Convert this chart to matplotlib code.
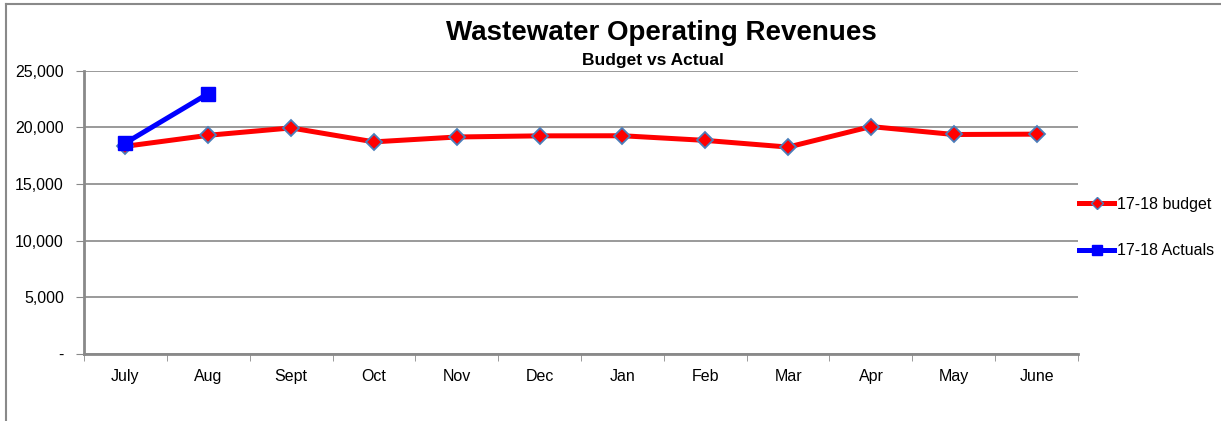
import matplotlib
matplotlib.use('Agg')
import matplotlib.pyplot as plt
from matplotlib.lines import Line2D

plt.rcParams['font.family'] = ['Liberation Sans', 'DejaVu Sans']

months = ['July', 'Aug', 'Sept', 'Oct', 'Nov', 'Dec',
          'Jan', 'Feb', 'Mar', 'Apr', 'May', 'June']
budget = [18330, 19300, 19950, 18720, 19150, 19250,
          19260, 18850, 18260, 20070, 19370, 19400]
actuals = [18620, 22980]
yticks = [0, 5000, 10000, 15000, 20000, 25000]
ytick_labels = ['-', '5,000', '10,000', '15,000', '20,000', '25,000']

W, H = 1221, 421
fig = plt.figure(figsize=(W / 100, H / 100), dpi=100)
ax = fig.add_axes([84 / W, 1 - 354 / H, (1078 - 84) / W, (354 - 70.7) / H])

grey = '#898989'
x = list(range(len(months)))

# budget line: red with blue-edged diamonds
ax.plot(x, budget, color='#ff0000', lw=3.6, marker='D', ms=8,
        mfc='#ff0000', mec='#4a7ebb', mew=1.3, zorder=3)
# actuals line: blue squares
ax.plot(x[:len(actuals)], actuals, color='#0000ff', lw=3.6, marker='s',
        ms=10, mfc='#0000ff', mec='#0000ff', zorder=4)

ax.set_xlim(-0.5, len(months) - 0.5)
ax.set_ylim(0, 25000)
ax.set_yticks(yticks)
ax.set_yticklabels(ytick_labels, fontsize=11.5)
ax.yaxis.grid(True, color=grey, lw=1.2)
ax.set_axisbelow(True)

# month labels centred, tick marks on category boundaries
ax.set_xticks(x)
ax.set_xticklabels(months, fontsize=11.5)
ax.tick_params(axis='x', which='major', length=0, pad=11)
ax.set_xticks([i - 0.5 for i in range(len(months) + 1)], minor=True)
ax.tick_params(axis='x', which='minor', length=5, color=grey, direction='out')
ax.tick_params(axis='y', length=6, color=grey, pad=8.5)

for side in ['top', 'right']:
    ax.spines[side].set_visible(False)
for side in ['left', 'bottom']:
    ax.spines[side].set_color(grey)
    ax.spines[side].set_linewidth(2)

fig.text(661 / W, 1 - 33 / H, 'Wastewater Operating Revenues',
         ha='center', va='center', fontsize=20, fontweight='bold')
fig.text(653 / W, 1 - 61 / H, 'Budget vs Actual',
         ha='center', va='center', fontsize=12.5, fontweight='bold')

handles = [
    Line2D([], [], color='#ff0000', lw=3.6, marker='D', ms=6,
           mfc='#ff0000', mec='#4a7ebb', mew=1),
    Line2D([], [], color='#0000ff', lw=3.6, marker='s', ms=7,
           mfc='#0000ff', mec='#0000ff'),
]
fig.legend(handles, ['17-18 budget', '17-18 Actuals'], loc='upper left',
           bbox_to_anchor=(1079 / W, 1 - 197 / H), frameon=False,
           fontsize=11.5, handlelength=2.2, handletextpad=0.2,
           labelspacing=1.95, borderpad=0, borderaxespad=0)

# chart area border (top and left edges)
fig.add_artist(Line2D([6 / W, 1], [1 - 4 / H, 1 - 4 / H], color=grey, lw=1.5))
fig.add_artist(Line2D([6 / W, 6 / W], [0, 1 - 4 / H], color=grey, lw=1.5))

fig.savefig('out.png', dpi=100)
